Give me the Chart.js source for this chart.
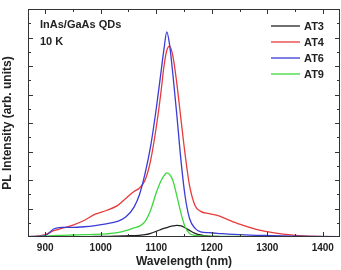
<!DOCTYPE html>
<html>
<head>
<meta charset="utf-8">
<script src="https://cdn.jsdelivr.net/npm/chart.js@4"></script>
<style>
  html, body { margin: 0; padding: 0; background: #fff; }
  #wrap { width: 341px; height: 270px; position: relative; }
</style>
</head>
<body>
<div id="wrap"><canvas id="plChart"></canvas></div>
<script>
// Wavelength grid (nm) shared by all spectra
const wavelengths = [870, 900, 915, 930, 950, 970, 990, 1010, 1030, 1045, 1060, 1070, 1080, 1090, 1100, 1108, 1114, 1119, 1124, 1130, 1137, 1145, 1152, 1160, 1170, 1180, 1195, 1210, 1230, 1250, 1280, 1310, 1350, 1390, 1430];

// PL intensity (arb. units)
const at3 = [0.01, 0.01, 0.01, 0.01, 0.01, 0.01, 0.02, 0.02, 0.03, 0.04, 0.05, 0.06, 0.08, 0.13, 0.2, 0.26, 0.3, 0.33, 0.36, 0.39, 0.41, 0.39, 0.32, 0.23, 0.13, 0.07, 0.03, 0.02, 0.01, 0.01, 0.01, 0.01, 0.01, 0.01, 0.01];
const at4 = [0.0, 0.08, 0.22, 0.3, 0.42, 0.58, 0.8, 0.93, 1.1, 1.35, 1.6, 1.72, 2.0, 2.7, 3.85, 5.0, 6.0, 6.55, 6.7, 6.35, 5.4, 4.05, 2.9, 1.8, 1.1, 0.9, 0.82, 0.76, 0.6, 0.45, 0.27, 0.15, 0.06, 0.02, 0.0];
const at6 = [0.02, 0.05, 0.28, 0.34, 0.34, 0.36, 0.4, 0.46, 0.55, 0.7, 1.05, 1.5, 2.24, 3.2, 4.5, 5.7, 6.6, 7.2, 6.75, 5.7, 4.3, 2.6, 1.43, 0.65, 0.3, 0.18, 0.15, 0.13, 0.1, 0.08, 0.06, 0.05, 0.03, 0.02, 0.01];
const at9 = [0.01, 0.03, 0.05, 0.06, 0.07, 0.08, 0.09, 0.11, 0.15, 0.22, 0.32, 0.38, 0.55, 0.95, 1.55, 1.95, 2.15, 2.25, 2.2, 1.98, 1.45, 0.8, 0.35, 0.12, 0.06, 0.04, 0.03, 0.02, 0.02, 0.02, 0.01, 0.01, 0.01, 0.0, 0.0];

const seriesNames = ['AT3', 'AT4', 'AT6', 'AT9'];
const seriesData = [at3, at4, at6, at9];
const seriesColors = ['#222222', '#e83a3a', '#3b3bd6', '#3cd83c'];

const xTicks = [900, 1000, 1100, 1200, 1300, 1400];

const fontFam = '"Liberation Sans", Arial, sans-serif';

function toPoints(ys) {
    return ys.map((y, i) => ({ x: wavelengths[i], y: y }));
}

// Frame, inward ticks on all four sides, legend and annotation
const framePlugin = {
    id: 'framePlugin',
    afterDatasetsDraw(chart) {
        const ctx = chart.ctx;
        const a = chart.chartArea;
        const xs = chart.scales.x;
        const ys = chart.scales.y;
        ctx.save();
        ctx.strokeStyle = '#333';
        ctx.lineWidth = 1;
        ctx.strokeRect(a.left + 0.5, a.top + 0.5, a.right - a.left - 1, a.bottom - a.top - 1);

        ctx.beginPath();
        for (let v = 850; v <= 1450; v += 50) {
            const px = Math.round(xs.getPixelForValue(v)) + 0.5;
            if (px <= a.left || px >= a.right) continue;
            const len = v % 100 === 0 ? 5 : 3;
            ctx.moveTo(px, a.bottom); ctx.lineTo(px, a.bottom - len);
            ctx.moveTo(px, a.top); ctx.lineTo(px, a.top + len);
        }
        for (let v = 0.5; v < 8; v += 0.5) {
            const py = Math.round(ys.getPixelForValue(v)) + 0.5;
            const len = v % 1 === 0 ? 5 : 3;
            ctx.moveTo(a.left, py); ctx.lineTo(a.left + len, py);
            ctx.moveTo(a.right, py); ctx.lineTo(a.right - len, py);
        }
        ctx.stroke();

        // annotation
        ctx.fillStyle = '#222';
        ctx.font = 'bold 11px ' + fontFam;
        ctx.textBaseline = 'middle';
        ctx.textAlign = 'left';
        ctx.fillText('InAs/GaAs QDs', a.left + 12, 25);
        ctx.fillText('10 K', a.left + 12, 42);

        // legend
        const legY = [26, 42, 58, 74];
        seriesNames.forEach((name, i) => {
            ctx.strokeStyle = seriesColors[i];
            ctx.lineWidth = 1.3;
            ctx.beginPath();
            ctx.moveTo(271, legY[i]);
            ctx.lineTo(300, legY[i]);
            ctx.stroke();
            ctx.fillStyle = '#222';
            ctx.fillText(name, 304, legY[i] + 0.5);
        });
        ctx.restore();
    }
};

const plCtx = document.getElementById('plChart').getContext('2d');
const plChart = new Chart(plCtx, {
    type: 'line',
    data: {
        datasets: seriesNames.map((name, i) => ({
            label: name,
            data: toPoints(seriesData[i]),
            borderColor: seriesColors[i],
            backgroundColor: seriesColors[i],
            borderWidth: 1.3,
            pointRadius: 0,
            fill: false,
            cubicInterpolationMode: 'monotone',
            order: seriesNames.length - i
        }))
    },
    options: {
        responsive: true,
        maintainAspectRatio: false,
        animation: false,
        layout: {
            padding: { left: 0, right: 1, top: 9, bottom: 0 }
        },
        scales: {
            x: {
                type: 'linear',
                min: 869,
                max: 1431,
                afterBuildTicks: (scale) => {
                    scale.ticks = xTicks.map(v => ({ value: v }));
                },
                afterFit: (scale) => { scale.height = 33; },
                grid: { display: false, drawTicks: false, tickLength: 0 },
                border: { display: false },
                ticks: {
                    color: '#222',
                    padding: 5,
                    maxRotation: 0,
                    callback: (v) => String(v),
                    font: { family: fontFam, size: 10, weight: 'bold' }
                },
                title: {
                    display: true,
                    text: 'Wavelength (nm)',
                    color: '#222',
                    padding: { top: 0, bottom: 1 },
                    font: { family: fontFam, size: 12, weight: 'bold' }
                }
            },
            y: {
                min: 0,
                max: 8,
                afterFit: (scale) => { scale.width = 28; },
                grid: { display: false },
                border: { display: false },
                ticks: { display: false },
                title: {
                    display: true,
                    text: 'PL Intensity (arb. units)',
                    color: '#222',
                    padding: { top: 0, bottom: 4 },
                    font: { family: fontFam, size: 12, weight: 'bold' }
                }
            }
        },
        plugins: {
            legend: { display: false },
            tooltip: { enabled: false }
        }
    },
    plugins: [framePlugin]
});
</script>
</body>
</html>
